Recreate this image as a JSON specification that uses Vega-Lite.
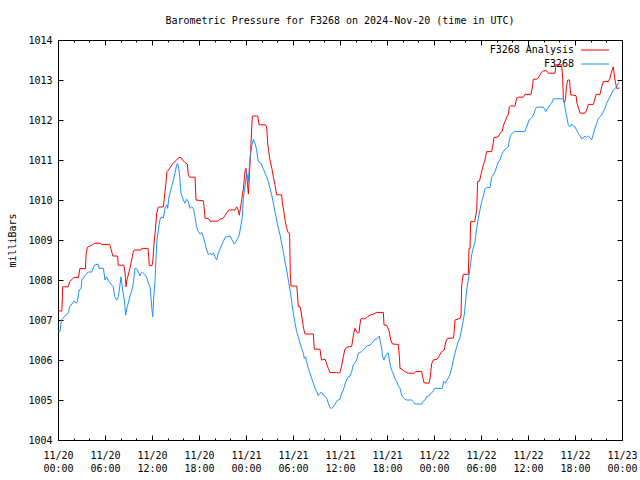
{
  "$schema": "https://vega.github.io/schema/vega-lite/v6.json",
  "width": 564,
  "height": 400,
  "autosize": {"type": "none"},
  "padding": {"left": 58, "top": 40, "right": 18, "bottom": 40},
  "background": "white",
  "title": {
    "text": "Barometric Pressure for F3268 on 2024-Nov-20 (time in UTC)",
    "font": "DejaVu Sans Mono", "fontSize": 10, "fontWeight": "normal", "color": "black",
    "anchor": "middle", "offset": 1, "baseline": "alphabetic"
  },
  "config": {
    "view": {"stroke": "black", "strokeWidth": 1},
    "axis": {
      "grid": false, "domainColor": "black", "domainWidth": 1, "tickColor": "black", "tickWidth": 1,
      "labelColor": "black", "labelFont": "DejaVu Sans Mono", "labelFontSize": 10,
      "titleFont": "DejaVu Sans Mono", "titleFontSize": 10, "titleFontWeight": "normal", "titleColor": "black"
    },
    "legend": {
      "orient": "top-right", "offset": 3, "title": null, "padding": 2,
      "labelFont": "DejaVu Sans Mono", "labelFontSize": 10, "labelColor": "black",
      "symbolType": "M-4,0H4M5.6,0", "symbolSize": 49, "symbolStrokeWidth": 1,
      "labelAlign": "right", "labelOffset": -26, "rowPadding": 4
    }
  },
  "datasets": {
    "analysis": [
      {"hour":0,"mb":1007.25},{"hour":0.35,"mb":1007.22},{"hour":0.5,"mb":1007.22},{"hour":0.6,"mb":1007.83},{"hour":1.3,"mb":1007.83},{"hour":1.5,"mb":1007.96},{"hour":2.0,"mb":1008.06},{"hour":2.6,"mb":1008.06},{"hour":2.8,"mb":1008.29},{"hour":3.5,"mb":1008.28},{"hour":3.6,"mb":1008.67},{"hour":3.75,"mb":1008.82},{"hour":4.3,"mb":1008.87},{"hour":4.7,"mb":1008.92},{"hour":5.4,"mb":1008.92},{"hour":5.5,"mb":1008.89},{"hour":6.6,"mb":1008.89},{"hour":6.8,"mb":1008.75},{"hour":7.0,"mb":1008.6},{"hour":7.6,"mb":1008.6},{"hour":7.7,"mb":1008.37},{"hour":8.4,"mb":1008.37},{"hour":8.55,"mb":1008.2},{"hour":8.68,"mb":1007.83},{"hour":8.8,"mb":1008.0},{"hour":9.2,"mb":1008.3},{"hour":9.6,"mb":1008.7},{"hour":9.75,"mb":1008.75},{"hour":10.6,"mb":1008.75},{"hour":10.7,"mb":1008.79},{"hour":11.5,"mb":1008.79},{"hour":11.65,"mb":1008.36},{"hour":12.0,"mb":1008.36},{"hour":12.1,"mb":1008.45},{"hour":12.25,"mb":1008.9},{"hour":12.4,"mb":1009.17},{"hour":12.6,"mb":1009.67},{"hour":12.8,"mb":1009.82},{"hour":13.45,"mb":1009.83},{"hour":13.8,"mb":1010.46},{"hour":13.9,"mb":1010.71},{"hour":14.1,"mb":1010.75},{"hour":14.7,"mb":1010.92},{"hour":15.15,"mb":1011.0},{"hour":15.4,"mb":1011.06},{"hour":15.7,"mb":1011.06},{"hour":15.9,"mb":1011.0},{"hour":16.2,"mb":1010.94},{"hour":16.5,"mb":1010.9},{"hour":16.64,"mb":1010.63},{"hour":16.8,"mb":1010.57},{"hour":17.5,"mb":1010.57},{"hour":17.62,"mb":1010.0},{"hour":18.55,"mb":1009.98},{"hour":18.65,"mb":1009.83},{"hour":18.77,"mb":1009.54},{"hour":19.2,"mb":1009.54},{"hour":19.4,"mb":1009.47},{"hour":20.4,"mb":1009.47},{"hour":20.7,"mb":1009.52},{"hour":21.1,"mb":1009.55},{"hour":21.5,"mb":1009.67},{"hour":21.8,"mb":1009.75},{"hour":22.6,"mb":1009.75},{"hour":22.81,"mb":1009.83},{"hour":23.0,"mb":1009.75},{"hour":23.15,"mb":1009.62},{"hour":23.36,"mb":1009.88},{"hour":23.57,"mb":1010.17},{"hour":23.65,"mb":1010.25},{"hour":23.87,"mb":1010.71},{"hour":24.0,"mb":1010.79},{"hour":24.2,"mb":1010.38},{"hour":24.3,"mb":1010.15},{"hour":24.43,"mb":1010.6},{"hour":24.64,"mb":1011.42},{"hour":24.75,"mb":1011.88},{"hour":24.81,"mb":1012.1},{"hour":25.5,"mb":1012.1},{"hour":25.66,"mb":1011.88},{"hour":26.5,"mb":1011.88},{"hour":26.65,"mb":1011.8},{"hour":26.77,"mb":1011.42},{"hour":26.9,"mb":1011.21},{"hour":27.06,"mb":1011.0},{"hour":27.3,"mb":1010.79},{"hour":27.49,"mb":1010.58},{"hour":27.7,"mb":1010.38},{"hour":27.91,"mb":1010.13},{"hour":28.55,"mb":1010.13},{"hour":28.65,"mb":1009.92},{"hour":28.8,"mb":1009.75},{"hour":28.98,"mb":1009.5},{"hour":29.2,"mb":1009.29},{"hour":29.4,"mb":1009.18},{"hour":29.57,"mb":1009.17},{"hour":29.65,"mb":1008.17},{"hour":29.74,"mb":1007.85},{"hour":30.47,"mb":1007.85},{"hour":30.55,"mb":1007.7},{"hour":30.68,"mb":1007.33},{"hour":30.9,"mb":1007.33},{"hour":31.0,"mb":1007.25},{"hour":31.19,"mb":1007.0},{"hour":31.35,"mb":1006.79},{"hour":31.53,"mb":1006.65},{"hour":32.6,"mb":1006.65},{"hour":32.72,"mb":1006.27},{"hour":33.45,"mb":1006.27},{"hour":33.55,"mb":1006.1},{"hour":33.66,"mb":1006.0},{"hour":34.09,"mb":1006.02},{"hour":34.3,"mb":1005.9},{"hour":34.51,"mb":1005.79},{"hour":34.72,"mb":1005.69},{"hour":35.57,"mb":1005.69},{"hour":35.8,"mb":1005.67},{"hour":36.0,"mb":1005.69},{"hour":36.2,"mb":1005.85},{"hour":36.43,"mb":1006.08},{"hour":36.6,"mb":1006.25},{"hour":36.85,"mb":1006.32},{"hour":37.49,"mb":1006.34},{"hour":37.62,"mb":1006.5},{"hour":37.75,"mb":1006.67},{"hour":37.91,"mb":1006.79},{"hour":38.1,"mb":1006.72},{"hour":38.2,"mb":1006.68},{"hour":38.43,"mb":1006.68},{"hour":38.55,"mb":1006.9},{"hour":38.68,"mb":1007.03},{"hour":39.2,"mb":1007.03},{"hour":39.5,"mb":1007.08},{"hour":39.83,"mb":1007.12},{"hour":40.3,"mb":1007.15},{"hour":40.68,"mb":1007.19},{"hour":41.53,"mb":1007.19},{"hour":41.62,"mb":1006.88},{"hour":42.0,"mb":1006.86},{"hour":42.3,"mb":1006.7},{"hour":42.47,"mb":1006.5},{"hour":42.7,"mb":1006.4},{"hour":43.45,"mb":1006.39},{"hour":43.58,"mb":1006.08},{"hour":43.66,"mb":1005.79},{"hour":43.9,"mb":1005.77},{"hour":44.2,"mb":1005.72},{"hour":44.72,"mb":1005.67},{"hour":45.49,"mb":1005.67},{"hour":45.66,"mb":1005.71},{"hour":46.43,"mb":1005.71},{"hour":46.55,"mb":1005.58},{"hour":46.72,"mb":1005.43},{"hour":47.36,"mb":1005.42},{"hour":47.5,"mb":1005.55},{"hour":47.7,"mb":1005.9},{"hour":47.91,"mb":1006.0},{"hour":48.4,"mb":1006.02},{"hour":48.6,"mb":1006.08},{"hour":48.8,"mb":1006.15},{"hour":48.98,"mb":1006.21},{"hour":49.3,"mb":1006.25},{"hour":49.5,"mb":1006.45},{"hour":49.7,"mb":1006.54},{"hour":50.47,"mb":1006.55},{"hour":50.55,"mb":1006.65},{"hour":50.68,"mb":1007.0},{"hour":51.32,"mb":1007.04},{"hour":51.45,"mb":1007.1},{"hour":51.53,"mb":1007.88},{"hour":51.74,"mb":1008.14},{"hour":52.38,"mb":1008.14},{"hour":52.47,"mb":1008.79},{"hour":52.6,"mb":1008.79},{"hour":52.68,"mb":1009.46},{"hour":53.2,"mb":1009.46},{"hour":53.45,"mb":1009.75},{"hour":53.57,"mb":1010.46},{"hour":53.8,"mb":1010.47},{"hour":54.09,"mb":1010.71},{"hour":54.3,"mb":1010.88},{"hour":54.5,"mb":1011.0},{"hour":54.72,"mb":1011.21},{"hour":55.36,"mb":1011.21},{"hour":55.5,"mb":1011.35},{"hour":55.66,"mb":1011.56},{"hour":56.21,"mb":1011.58},{"hour":56.45,"mb":1011.67},{"hour":56.7,"mb":1011.72},{"hour":56.85,"mb":1011.85},{"hour":57.06,"mb":1011.96},{"hour":57.3,"mb":1012.08},{"hour":57.5,"mb":1012.15},{"hour":57.62,"mb":1012.33},{"hour":57.75,"mb":1012.35},{"hour":58.34,"mb":1012.35},{"hour":58.55,"mb":1012.55},{"hour":58.77,"mb":1012.57},{"hour":59.4,"mb":1012.57},{"hour":59.62,"mb":1012.64},{"hour":60.38,"mb":1012.64},{"hour":60.55,"mb":1012.8},{"hour":60.68,"mb":1013.02},{"hour":61.11,"mb":1013.02},{"hour":61.3,"mb":1013.05},{"hour":61.5,"mb":1013.12},{"hour":61.75,"mb":1013.2},{"hour":61.96,"mb":1013.23},{"hour":62.38,"mb":1013.23},{"hour":62.6,"mb":1013.17},{"hour":63.45,"mb":1013.17},{"hour":63.57,"mb":1013.38},{"hour":64.3,"mb":1013.38},{"hour":64.43,"mb":1013.04},{"hour":64.51,"mb":1012.54},{"hour":64.64,"mb":1012.42},{"hour":64.8,"mb":1012.54},{"hour":64.9,"mb":1012.83},{"hour":65.06,"mb":1013.0},{"hour":65.3,"mb":1013.0},{"hour":65.45,"mb":1012.63},{"hour":66.13,"mb":1012.61},{"hour":66.25,"mb":1012.42},{"hour":66.45,"mb":1012.3},{"hour":66.64,"mb":1012.17},{"hour":67.28,"mb":1012.17},{"hour":67.5,"mb":1012.25},{"hour":67.7,"mb":1012.39},{"hour":68.34,"mb":1012.39},{"hour":68.5,"mb":1012.5},{"hour":68.68,"mb":1012.64},{"hour":69.19,"mb":1012.64},{"hour":69.4,"mb":1012.83},{"hour":69.62,"mb":1012.96},{"hour":70.26,"mb":1012.96},{"hour":70.45,"mb":1013.04},{"hour":70.65,"mb":1013.2},{"hour":70.89,"mb":1013.33},{"hour":71.0,"mb":1013.15},{"hour":71.15,"mb":1012.96},{"hour":71.32,"mb":1012.79},{"hour":71.67,"mb":1012.8}
    ],
    "observed": [
      {"hour":0,"mb":1006.71},{"hour":0.25,"mb":1006.71},{"hour":0.45,"mb":1007.0},{"hour":0.6,"mb":1007.04},{"hour":1.3,"mb":1007.17},{"hour":1.5,"mb":1007.33},{"hour":2.0,"mb":1007.46},{"hour":2.04,"mb":1007.48},{"hour":2.3,"mb":1007.42},{"hour":2.47,"mb":1007.46},{"hour":2.7,"mb":1007.75},{"hour":2.95,"mb":1007.79},{"hour":3.05,"mb":1008.0},{"hour":3.7,"mb":1008.17},{"hour":3.9,"mb":1008.2},{"hour":4.3,"mb":1008.2},{"hour":4.65,"mb":1008.37},{"hour":5.1,"mb":1008.4},{"hour":5.25,"mb":1008.29},{"hour":5.8,"mb":1008.29},{"hour":6.0,"mb":1008.0},{"hour":6.2,"mb":1008.08},{"hour":6.5,"mb":1007.96},{"hour":7.05,"mb":1007.83},{"hour":7.25,"mb":1007.58},{"hour":7.5,"mb":1007.5},{"hour":7.7,"mb":1007.58},{"hour":8.05,"mb":1008.08},{"hour":8.25,"mb":1007.75},{"hour":8.47,"mb":1007.5},{"hour":8.64,"mb":1007.12},{"hour":8.8,"mb":1007.3},{"hour":9.2,"mb":1007.6},{"hour":9.55,"mb":1007.83},{"hour":9.83,"mb":1008.29},{"hour":10.0,"mb":1008.29},{"hour":10.26,"mb":1008.2},{"hour":10.47,"mb":1008.1},{"hour":10.6,"mb":1008.17},{"hour":10.8,"mb":1008.19},{"hour":11.1,"mb":1008.13},{"hour":11.3,"mb":1008.08},{"hour":11.55,"mb":1007.92},{"hour":11.75,"mb":1007.83},{"hour":12.0,"mb":1007.25},{"hour":12.09,"mb":1007.08},{"hour":12.2,"mb":1007.5},{"hour":12.38,"mb":1007.96},{"hour":12.6,"mb":1008.92},{"hour":12.81,"mb":1009.25},{"hour":13.0,"mb":1009.5},{"hour":13.2,"mb":1009.58},{"hour":13.45,"mb":1009.55},{"hour":13.66,"mb":1009.79},{"hour":13.9,"mb":1009.88},{"hour":14.0,"mb":1009.79},{"hour":14.17,"mb":1010.08},{"hour":14.51,"mb":1010.33},{"hour":14.72,"mb":1010.5},{"hour":14.94,"mb":1010.67},{"hour":15.15,"mb":1010.88},{"hour":15.28,"mb":1010.92},{"hour":15.45,"mb":1010.75},{"hour":15.57,"mb":1010.5},{"hour":15.7,"mb":1010.17},{"hour":16.0,"mb":1010.0},{"hour":16.2,"mb":1009.92},{"hour":16.43,"mb":1010.02},{"hour":16.64,"mb":1009.96},{"hour":16.85,"mb":1009.79},{"hour":17.06,"mb":1009.83},{"hour":17.28,"mb":1009.79},{"hour":17.49,"mb":1009.58},{"hour":17.7,"mb":1009.33},{"hour":17.91,"mb":1009.21},{"hour":18.13,"mb":1009.15},{"hour":18.34,"mb":1009.19},{"hour":18.55,"mb":1009.08},{"hour":18.77,"mb":1008.92},{"hour":18.98,"mb":1008.75},{"hour":19.2,"mb":1008.63},{"hour":19.4,"mb":1008.67},{"hour":19.62,"mb":1008.63},{"hour":19.83,"mb":1008.68},{"hour":20.04,"mb":1008.58},{"hour":20.26,"mb":1008.5},{"hour":20.47,"mb":1008.67},{"hour":20.68,"mb":1008.77},{"hour":20.89,"mb":1008.87},{"hour":21.1,"mb":1008.96},{"hour":21.32,"mb":1009.06},{"hour":21.53,"mb":1009.08},{"hour":21.96,"mb":1009.1},{"hour":22.17,"mb":1009.02},{"hour":22.51,"mb":1008.9},{"hour":22.72,"mb":1008.96},{"hour":22.94,"mb":1009.04},{"hour":23.15,"mb":1009.13},{"hour":23.36,"mb":1009.38},{"hour":23.53,"mb":1009.58},{"hour":23.66,"mb":1010.04},{"hour":23.87,"mb":1010.33},{"hour":24.09,"mb":1010.67},{"hour":24.2,"mb":1010.58},{"hour":24.3,"mb":1010.46},{"hour":24.43,"mb":1010.83},{"hour":24.51,"mb":1011.04},{"hour":24.72,"mb":1011.33},{"hour":24.94,"mb":1011.52},{"hour":25.15,"mb":1011.42},{"hour":25.36,"mb":1011.25},{"hour":25.57,"mb":1010.96},{"hour":25.9,"mb":1010.92},{"hour":26.2,"mb":1010.79},{"hour":26.43,"mb":1010.67},{"hour":26.64,"mb":1010.58},{"hour":26.85,"mb":1010.46},{"hour":27.06,"mb":1010.29},{"hour":27.28,"mb":1010.13},{"hour":27.49,"mb":1009.92},{"hour":27.7,"mb":1009.71},{"hour":27.91,"mb":1009.5},{"hour":28.13,"mb":1009.29},{"hour":28.34,"mb":1009.13},{"hour":28.55,"mb":1008.92},{"hour":28.77,"mb":1008.71},{"hour":28.98,"mb":1008.46},{"hour":29.19,"mb":1008.25},{"hour":29.4,"mb":1008.0},{"hour":29.62,"mb":1007.75},{"hour":29.83,"mb":1007.46},{"hour":30.04,"mb":1007.17},{"hour":30.26,"mb":1006.92},{"hour":30.47,"mb":1006.71},{"hour":30.68,"mb":1006.58},{"hour":30.89,"mb":1006.42},{"hour":31.1,"mb":1006.29},{"hour":31.32,"mb":1006.17},{"hour":31.45,"mb":1006.04},{"hour":31.62,"mb":1006.08},{"hour":31.74,"mb":1005.96},{"hour":31.96,"mb":1005.79},{"hour":32.17,"mb":1005.67},{"hour":32.38,"mb":1005.54},{"hour":32.6,"mb":1005.42},{"hour":32.81,"mb":1005.29},{"hour":33.02,"mb":1005.21},{"hour":33.23,"mb":1005.11},{"hour":33.45,"mb":1005.17},{"hour":33.66,"mb":1005.19},{"hour":33.87,"mb":1005.12},{"hour":34.09,"mb":1005.1},{"hour":34.3,"mb":1005.04},{"hour":34.51,"mb":1004.92},{"hour":34.72,"mb":1004.81},{"hour":34.94,"mb":1004.79},{"hour":35.15,"mb":1004.83},{"hour":35.36,"mb":1004.89},{"hour":35.57,"mb":1004.97},{"hour":35.79,"mb":1005.0},{"hour":36.0,"mb":1005.02},{"hour":36.21,"mb":1005.17},{"hour":36.43,"mb":1005.25},{"hour":36.64,"mb":1005.4},{"hour":36.85,"mb":1005.5},{"hour":37.06,"mb":1005.58},{"hour":37.28,"mb":1005.6},{"hour":37.49,"mb":1005.71},{"hour":37.7,"mb":1005.88},{"hour":37.91,"mb":1005.93},{"hour":38.13,"mb":1006.0},{"hour":38.34,"mb":1006.17},{"hour":38.55,"mb":1006.19},{"hour":38.77,"mb":1006.21},{"hour":38.98,"mb":1006.25},{"hour":39.2,"mb":1006.3},{"hour":39.4,"mb":1006.35},{"hour":39.83,"mb":1006.37},{"hour":40.04,"mb":1006.42},{"hour":40.26,"mb":1006.46},{"hour":40.47,"mb":1006.52},{"hour":40.68,"mb":1006.52},{"hour":40.89,"mb":1006.57},{"hour":41.02,"mb":1006.6},{"hour":41.15,"mb":1006.46},{"hour":41.32,"mb":1006.29},{"hour":41.45,"mb":1006.08},{"hour":41.62,"mb":1006.0},{"hour":41.74,"mb":1006.08},{"hour":41.96,"mb":1006.15},{"hour":42.17,"mb":1006.18},{"hour":42.3,"mb":1006.0},{"hour":42.47,"mb":1005.83},{"hour":42.68,"mb":1005.71},{"hour":42.81,"mb":1005.65},{"hour":43.02,"mb":1005.54},{"hour":43.23,"mb":1005.46},{"hour":43.45,"mb":1005.35},{"hour":43.66,"mb":1005.29},{"hour":43.87,"mb":1005.12},{"hour":44.09,"mb":1005.06},{"hour":44.3,"mb":1005.02},{"hour":44.51,"mb":1005.0},{"hour":45.15,"mb":1005.0},{"hour":45.36,"mb":1004.96},{"hour":45.57,"mb":1004.9},{"hour":46.43,"mb":1004.9},{"hour":46.64,"mb":1004.97},{"hour":46.85,"mb":1005.0},{"hour":47.06,"mb":1005.08},{"hour":47.36,"mb":1005.1},{"hour":47.66,"mb":1005.18},{"hour":47.87,"mb":1005.21},{"hour":48.08,"mb":1005.29},{"hour":49.06,"mb":1005.29},{"hour":49.23,"mb":1005.47},{"hour":49.45,"mb":1005.42},{"hour":49.66,"mb":1005.5},{"hour":49.91,"mb":1005.58},{"hour":50.09,"mb":1005.67},{"hour":50.3,"mb":1005.83},{"hour":50.47,"mb":1006.0},{"hour":50.68,"mb":1006.17},{"hour":50.89,"mb":1006.33},{"hour":51.1,"mb":1006.46},{"hour":51.32,"mb":1006.55},{"hour":51.6,"mb":1006.85},{"hour":51.87,"mb":1007.13},{"hour":52.0,"mb":1007.4},{"hour":52.2,"mb":1007.79},{"hour":52.38,"mb":1008.0},{"hour":52.6,"mb":1008.29},{"hour":52.81,"mb":1008.63},{"hour":53.02,"mb":1008.8},{"hour":53.23,"mb":1008.96},{"hour":53.45,"mb":1009.29},{"hour":53.66,"mb":1009.54},{"hour":53.87,"mb":1009.75},{"hour":54.09,"mb":1009.96},{"hour":54.3,"mb":1010.1},{"hour":54.51,"mb":1010.28},{"hour":54.72,"mb":1010.31},{"hour":55.15,"mb":1010.31},{"hour":55.36,"mb":1010.58},{"hour":55.57,"mb":1010.62},{"hour":55.79,"mb":1010.71},{"hour":56.0,"mb":1010.83},{"hour":56.21,"mb":1010.96},{"hour":56.43,"mb":1011.0},{"hour":56.64,"mb":1011.13},{"hour":56.85,"mb":1011.21},{"hour":57.06,"mb":1011.27},{"hour":57.28,"mb":1011.29},{"hour":57.49,"mb":1011.33},{"hour":57.62,"mb":1011.5},{"hour":57.79,"mb":1011.62},{"hour":58.0,"mb":1011.67},{"hour":58.26,"mb":1011.71},{"hour":59.62,"mb":1011.71},{"hour":59.75,"mb":1011.79},{"hour":59.96,"mb":1011.9},{"hour":60.13,"mb":1012.0},{"hour":60.38,"mb":1012.04},{"hour":60.55,"mb":1012.08},{"hour":60.77,"mb":1012.17},{"hour":60.98,"mb":1012.29},{"hour":61.11,"mb":1012.32},{"hour":61.96,"mb":1012.32},{"hour":62.17,"mb":1012.25},{"hour":62.3,"mb":1012.21},{"hour":62.51,"mb":1012.29},{"hour":62.81,"mb":1012.38},{"hour":63.02,"mb":1012.42},{"hour":63.23,"mb":1012.53},{"hour":64.51,"mb":1012.53},{"hour":64.64,"mb":1012.42},{"hour":64.81,"mb":1012.21},{"hour":64.94,"mb":1012.08},{"hour":65.15,"mb":1011.88},{"hour":65.36,"mb":1011.83},{"hour":65.57,"mb":1011.9},{"hour":65.79,"mb":1011.85},{"hour":66.0,"mb":1011.83},{"hour":66.21,"mb":1011.75},{"hour":66.43,"mb":1011.67},{"hour":66.64,"mb":1011.6},{"hour":66.85,"mb":1011.53},{"hour":67.06,"mb":1011.55},{"hour":67.28,"mb":1011.6},{"hour":67.49,"mb":1011.56},{"hour":67.7,"mb":1011.6},{"hour":67.91,"mb":1011.56},{"hour":68.13,"mb":1011.5},{"hour":68.34,"mb":1011.65},{"hour":68.55,"mb":1011.79},{"hour":68.77,"mb":1011.92},{"hour":68.98,"mb":1012.04},{"hour":69.19,"mb":1012.08},{"hour":69.4,"mb":1012.12},{"hour":69.62,"mb":1012.21},{"hour":69.83,"mb":1012.29},{"hour":70.04,"mb":1012.42},{"hour":70.26,"mb":1012.5},{"hour":70.47,"mb":1012.58},{"hour":70.68,"mb":1012.67},{"hour":70.89,"mb":1012.75},{"hour":71.11,"mb":1012.79},{"hour":71.32,"mb":1012.83},{"hour":71.53,"mb":1012.92},{"hour":71.67,"mb":1012.96}
    ]
  },
  "layer": [
    {
      "data": {"name": "analysis"},
      "mark": {"type": "line", "strokeWidth": 1, "clip": true},
      "encoding": {
        "x": {
          "field": "hour", "type": "quantitative",
          "scale": {"domain": [0, 72], "nice": false, "zero": false},
          "axis": {
            "orient": "bottom", "title": null,
            "values": [0,2,4,6,8,10,12,14,16,18,20,22,24,26,28,30,32,34,36,38,40,42,44,46,48,50,52,54,56,58,60,62,64,66,68,70,72],
            "tickSize": {"condition": {"test": "datum.value % 6 === 0", "value": -5}, "value": -2},
            "labelExpr": "datum.value % 6 === 0 ? ['11/' + (20 + floor(datum.value / 24)), ((datum.value % 24) < 10 ? '0' : '') + (datum.value % 24) + ':00'] : ''",
            "labelPadding": 15, "labelLineHeight": 13, "labelBaseline": "top",
            "labelFlush": false, "labelOverlap": false
          }
        },
        "y": {
          "field": "mb", "type": "quantitative",
          "scale": {"domain": [1004, 1014], "nice": false, "zero": false},
          "axis": {
            "orient": "left", "title": "milliBars",
            "values": [1004,1005,1006,1007,1008,1009,1010,1011,1012,1013,1014],
            "format": "d", "tickSize": -5, "labelPadding": 11, "titlePadding": 10
          }
        },
        "color": {
          "datum": "F3268 Analysis", "type": "nominal",
          "scale": {"domain": ["F3268 Analysis", "F3268"], "range": ["#ff0000", "#1e90ff"]}
        }
      }
    },
    {
      "data": {"name": "observed"},
      "mark": {"type": "line", "strokeWidth": 1, "clip": true},
      "encoding": {
        "x": {
          "field": "hour", "type": "quantitative",
          "axis": {
            "orient": "top", "title": null, "labels": false,
            "values": [0,2,4,6,8,10,12,14,16,18,20,22,24,26,28,30,32,34,36,38,40,42,44,46,48,50,52,54,56,58,60,62,64,66,68,70,72],
            "tickSize": {"condition": {"test": "datum.value % 6 === 0", "value": -5}, "value": -2}
          }
        },
        "y": {
          "field": "mb", "type": "quantitative",
          "axis": {
            "orient": "right", "title": null, "labels": false,
            "values": [1004,1005,1006,1007,1008,1009,1010,1011,1012,1013,1014],
            "tickSize": -5
          }
        },
        "color": {"datum": "F3268", "type": "nominal"}
      }
    }
  ],
  "resolve": {"axis": {"x": "independent", "y": "independent"}}
}
